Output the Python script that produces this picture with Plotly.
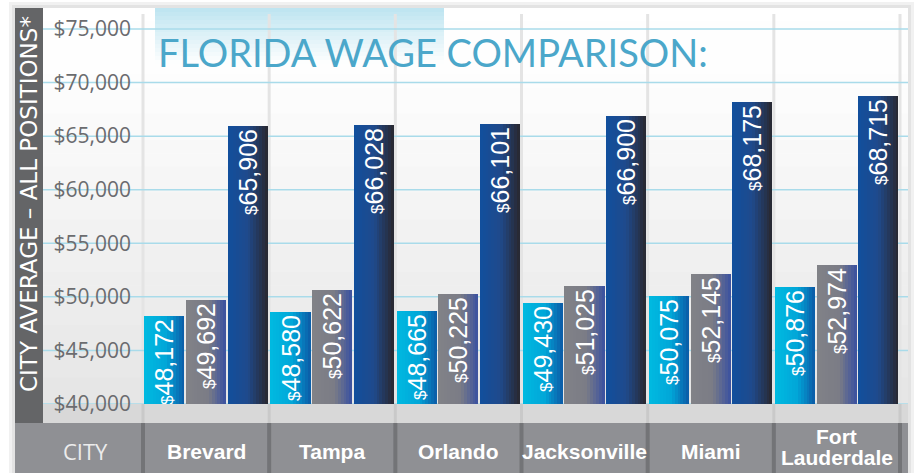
import plotly.graph_objects as go

# ---------------- data ----------------
cities = ["Brevard", "Tampa", "Orlando", "Jacksonville", "Miami", "Fort<br>Lauderdale"]
series_a = [48172, 48580, 48665, 49430, 50075, 50876]
series_b = [49692, 50622, 50225, 51025, 52145, 52974]
series_c = [65906, 66028, 66101, 66900, 68175, 68715]
y_ticks = [40000, 45000, 50000, 55000, 60000, 65000, 70000, 75000]
title_text = "FLORIDA WAGE COMPARISON:"
y_title = "CITY AVERAGE \u2013 ALL POSITIONS*"
x_title = "CITY"

# ---------------- geometry (pixels) ----------------
W, H = 915, 473
PL, PR, PT, PB = 143, 900, 8, 404          # plot area edges
Y0 = 40000
Y1 = 76960
X0, X1 = -0.5, len(cities) - 0.5


def px_x(x):
    return (x - PL) / (PR - PL)


def px_y(y):
    return (PB - y) / (PB - PT)


def dx(v):
    return (v - X0) / (X1 - X0)


def dy(v):
    return (v - Y0) / (Y1 - Y0)


def hexrgb(h):
    h = h.lstrip("#")
    return [int(h[i:i + 2], 16) for i in (0, 2, 4)]


def mix(stops, t):
    for (t0, c0), (t1, c1) in zip(stops[:-1], stops[1:]):
        if t <= t1:
            f = 0 if t1 == t0 else (t - t0) / (t1 - t0)
            a, b = hexrgb(c0), hexrgb(c1)
            return "rgb(%d,%d,%d)" % tuple(round(a[i] + (b[i] - a[i]) * f) for i in range(3))
    return stops[-1][1]


shapes = []


def rect(x0, y0, x1, y1, color, layer="below"):
    shapes.append(dict(type="rect", xref="paper", yref="paper",
                       x0=px_x(x0), x1=px_x(x1), y0=px_y(y0), y1=px_y(y1),
                       fillcolor=color, line=dict(width=0), layer=layer))


# shadow / panel
rect(9, 2, 914, 473, "#f1f1f1")
rect(12, 5, 911, 473, "#e3e3e3")
rect(15, 8, 908, 473, "#ffffff")

# background gradient of label + plot area
NB = 30
g_top, g_bot = 8, 404
for k in range(NB):
    y0 = g_top + (g_bot - g_top) * k / NB
    y1 = g_top + (g_bot - g_top) * (k + 1) / NB + 0.6
    t = (k + 0.5) / NB
    rect(43, y0, 908, y1, mix([(0, "#ffffff"), (0.2, "#fdfdfd"), (1, "#e5e5e5")], t))

# title highlight gradient
NT = 14
for k in range(NT):
    y0 = 8 + 56 * k / NT
    y1 = 8 + 56 * (k + 1) / NT + 0.6
    t = (k + 0.5) / NT
    rect(155, y0, 444, y1, mix([(0, "#bde4f0"), (1, "#ffffff")], t))

# vertical separators in plot area
bounds = [i - 0.5 for i in range(len(cities) + 1)]
for b in bounds:
    shapes.append(dict(type="line", xref="paper", yref="paper",
                       x0=dx(b), x1=dx(b), y0=px_y(404), y1=px_y(14),
                       line=dict(color="#e4e4e4", width=3), layer="below"))

# horizontal gridlines
for v in y_ticks:
    shapes.append(dict(type="line", xref="paper", yref="paper",
                       x0=px_x(43), x1=px_x(908), y0=dy(v), y1=dy(v),
                       line=dict(color="#a9dbea", width=1.5), layer="below"))

# light band under the plot
rect(43, 404, 908, 423, "#d8d8d8")
for b in bounds:
    shapes.append(dict(type="line", xref="paper", yref="paper",
                       x0=dx(b), x1=dx(b), y0=px_y(423), y1=px_y(404),
                       line=dict(color="#c9c9c9", width=3), layer="below"))

# dark left strip
rect(15, 8, 43, 423, "#646567")

# category strip
rect(15, 423, 908, 473, "#8f9094")
for b in bounds:
    shapes.append(dict(type="line", xref="paper", yref="paper",
                       x0=dx(b), x1=dx(b), y0=px_y(473), y1=px_y(423),
                       line=dict(color="#737477", width=4), layer="below"))

# ---------------- bars ----------------
BW = 0.318
GAP = 0.012
offsets = [-0.49, -0.49 + BW + GAP, -0.49 + 2 * (BW + GAP)]
grads = [
    [(0, "#00bae1"), (0.55, "#01a6d8"), (1, "#0c5aa6")],
    [(0, "#818287"), (0.55, "#7b7c86"), (1, "#3a51a0")],
    [(0, "#114f9d"), (0.5, "#1f4a8c"), (1, "#29272e")],
]
series = [series_a, series_b, series_c]
xs = list(range(len(cities)))

fig = go.Figure()
K = 14
for s, vals in enumerate(series):
    for k in range(K):
        t = (k + 0.5) / K
        wk = BW / K * (1.25 if k < K - 1 else 1.0)
        fig.add_trace(go.Bar(
            x=xs, y=vals, width=[wk] * len(xs), offset=offsets[s] + k * BW / K,
            marker=dict(color=mix(grads[s], t), line=dict(width=0)),
            hoverinfo="skip", showlegend=False))

for s, vals in enumerate(series):
    fig.add_trace(go.Bar(
        x=xs, y=vals, width=[BW] * len(xs), offset=offsets[s],
        marker=dict(color="rgba(0,0,0,0)", line=dict(width=0)),
        text=['<span style="font-size:17px">$</span>' + format(v, ",") for v in vals],
        textposition="inside", insidetextanchor="end", textangle=-90,
        textfont=dict(family="Liberation Sans Narrow, Arial Narrow, sans-serif",
                      size=25, color="#ffffff"),
        hoverinfo="skip", showlegend=False))

# ---------------- annotations ----------------
annotations = [
    dict(text=title_text, xref="paper", yref="paper", x=px_x(156), y=px_y(52),
         xanchor="left", yanchor="middle", showarrow=False,
         font=dict(family="Lato, Open Sans, sans-serif", size=38, color="#4ba7ca")),
    dict(text=y_title, xref="paper", yref="paper", x=px_x(29), y=px_y(204),
         xanchor="center", yanchor="middle", showarrow=False, textangle=-90,
         font=dict(family="DejaVu Sans, sans-serif", size=23, color="#ffffff")),
    dict(text=x_title, xref="paper", yref="paper", x=px_x(85), y=px_y(451),
         xanchor="center", yanchor="middle", showarrow=False,
         font=dict(family="Open Sans, sans-serif", size=22, color="#ececec")),
]
for i, c in enumerate(cities):
    lines = c.split("<br>")
    n = len(lines)
    for j, ln in enumerate(lines):
        yc = (451 if n == 1 else 447) + (j - (n - 1) / 2) * 22
        annotations.append(dict(
            text="<b>" + ln + "</b>", xref="paper", yref="paper", x=dx(i), y=px_y(yc),
            xanchor="center", yanchor="middle", showarrow=False,
            font=dict(family="Liberation Sans Narrow, Arial Narrow, sans-serif",
                      size=21, color="#ffffff")))

fig.update_layout(
    width=W, height=H,
    margin=dict(l=PL, r=W - PR, t=PT, b=H - PB, pad=0),
    paper_bgcolor="#ffffff", plot_bgcolor="rgba(0,0,0,0)",
    barmode="overlay", bargap=0,
    showlegend=False,
    shapes=shapes, annotations=annotations,
    xaxis=dict(range=[X0, X1], showticklabels=False, showgrid=False,
               zeroline=False, showline=False, fixedrange=True),
    yaxis=dict(range=[Y0, Y1], tickvals=y_ticks, tickformat="$,",
               showgrid=False, zeroline=False, showline=False,
               ticks="", ticklabelstandoff=11,
               tickfont=dict(family="Open Sans, sans-serif", size=21, color="#6b6c6f"),
               fixedrange=True),
)

fig.write_html("out.html", config={"displayModeBar": False},
               post_script="document.body.style.margin='0px';document.body.style.overflow='hidden';")
